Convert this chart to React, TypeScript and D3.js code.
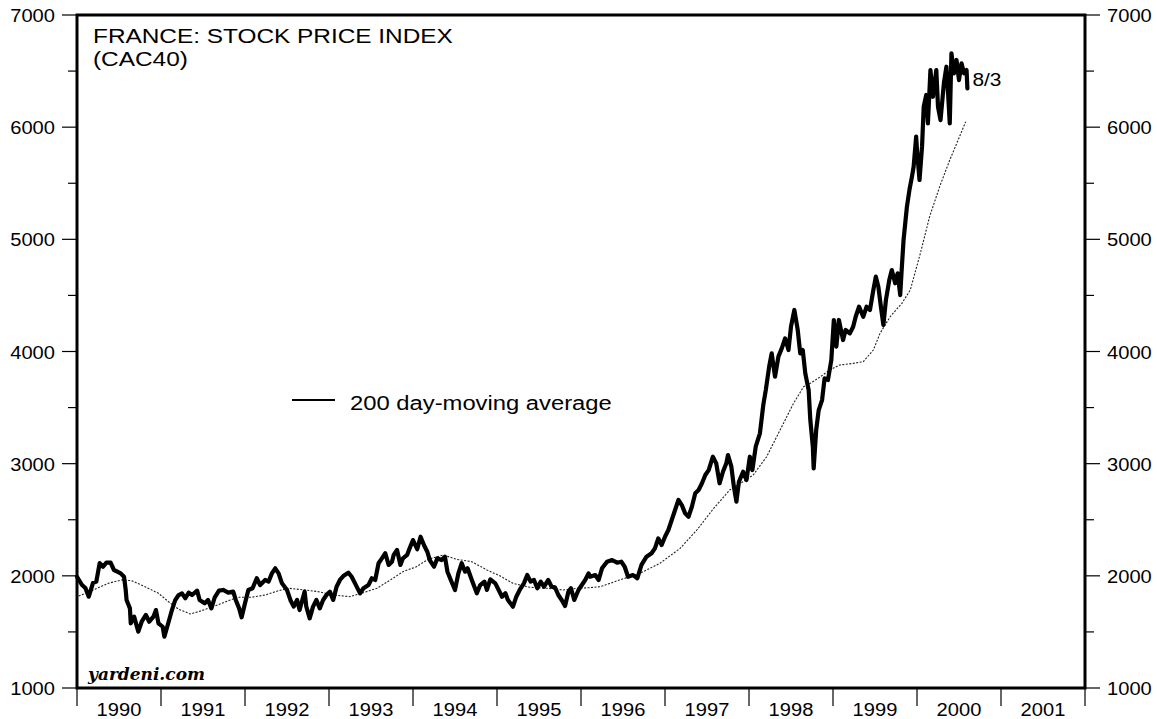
import React from 'react';
import * as d3 from 'd3';

// CAC40 closes: [decimal year, index]
const cacIndex: [number, number][] = [
  [1990.0, 1992], [1990.06, 1918], [1990.1, 1891], [1990.14, 1814], [1990.19, 1936], [1990.23, 1948],
  [1990.27, 2114], [1990.31, 2081], [1990.35, 2117], [1990.4, 2117], [1990.44, 2052], [1990.48, 2037],
  [1990.52, 2022], [1990.56, 1992], [1990.58, 1874], [1990.59, 1785], [1990.63, 1710], [1990.64, 1577],
  [1990.68, 1636], [1990.73, 1502], [1990.77, 1591], [1990.82, 1651], [1990.86, 1591], [1990.91, 1636],
  [1990.94, 1695], [1990.97, 1577], [1991.02, 1546], [1991.04, 1457], [1991.08, 1562], [1991.13, 1695],
  [1991.17, 1785], [1991.21, 1829], [1991.25, 1844], [1991.29, 1800], [1991.33, 1850], [1991.37, 1829],
  [1991.43, 1868], [1991.46, 1785], [1991.52, 1755], [1991.56, 1785], [1991.6, 1710], [1991.64, 1809],
  [1991.69, 1868], [1991.74, 1874], [1991.8, 1850], [1991.86, 1859], [1991.89, 1785], [1991.93, 1710],
  [1991.96, 1630], [1992.0, 1755], [1992.04, 1874], [1992.09, 1889], [1992.14, 1978], [1992.18, 1918],
  [1992.24, 1963], [1992.28, 1948], [1992.32, 2022], [1992.36, 2067], [1992.4, 2022], [1992.44, 1933],
  [1992.5, 1874], [1992.54, 1785], [1992.58, 1725], [1992.62, 1785], [1992.65, 1695], [1992.71, 1859],
  [1992.73, 1725], [1992.77, 1621], [1992.81, 1725], [1992.85, 1785], [1992.89, 1710], [1992.93, 1785],
  [1992.97, 1829], [1993.01, 1859], [1993.05, 1785], [1993.09, 1903], [1993.13, 1963], [1993.17, 1998],
  [1993.23, 2028], [1993.27, 1992], [1993.31, 1933], [1993.37, 1844], [1993.41, 1889], [1993.47, 1918],
  [1993.51, 1978], [1993.55, 1963], [1993.59, 2112], [1993.63, 2156], [1993.67, 2201], [1993.71, 2097],
  [1993.75, 2126], [1993.77, 2186], [1993.81, 2230], [1993.85, 2097], [1993.88, 2156], [1993.93, 2186],
  [1993.96, 2245], [1994.0, 2319], [1994.05, 2237], [1994.09, 2349], [1994.13, 2275], [1994.17, 2215],
  [1994.2, 2141], [1994.25, 2081], [1994.29, 2156], [1994.34, 2141], [1994.38, 2171], [1994.41, 2037],
  [1994.45, 1963], [1994.5, 1874], [1994.54, 2022], [1994.58, 2112], [1994.62, 2037], [1994.65, 2067],
  [1994.7, 1963], [1994.76, 1844], [1994.8, 1918], [1994.85, 1948], [1994.88, 1874], [1994.92, 1969],
  [1994.98, 1933], [1995.02, 1874], [1995.06, 1814], [1995.1, 1844], [1995.13, 1785], [1995.19, 1725],
  [1995.23, 1814], [1995.27, 1874], [1995.32, 1933], [1995.36, 2007], [1995.4, 1948], [1995.44, 1963],
  [1995.48, 1889], [1995.52, 1948], [1995.56, 1903], [1995.61, 1963], [1995.65, 1903], [1995.69, 1898],
  [1995.73, 1829], [1995.77, 1785], [1995.81, 1731], [1995.85, 1859], [1995.88, 1889], [1995.92, 1785],
  [1995.97, 1874], [1996.01, 1918], [1996.05, 1963], [1996.09, 2022], [1996.11, 1992], [1996.17, 2007],
  [1996.21, 1963], [1996.25, 2067], [1996.31, 2126], [1996.37, 2141], [1996.43, 2117], [1996.48, 2126],
  [1996.52, 2081], [1996.56, 1992], [1996.62, 2007], [1996.67, 1978], [1996.72, 2097], [1996.78, 2171],
  [1996.84, 2201], [1996.88, 2245], [1996.92, 2334], [1996.96, 2275], [1997.0, 2349], [1997.04, 2409],
  [1997.08, 2498], [1997.12, 2587], [1997.16, 2676], [1997.2, 2631], [1997.24, 2557], [1997.28, 2527],
  [1997.32, 2616], [1997.36, 2736], [1997.4, 2765], [1997.44, 2825], [1997.48, 2899], [1997.52, 2943],
  [1997.57, 3062], [1997.61, 3003], [1997.65, 2825], [1997.69, 2928], [1997.73, 3003], [1997.75, 3077],
  [1997.79, 2973], [1997.82, 2795], [1997.85, 2661], [1997.88, 2839], [1997.93, 2928], [1997.97, 2854],
  [1998.01, 3062], [1998.04, 2943], [1998.08, 3151], [1998.13, 3271], [1998.17, 3523], [1998.2, 3657],
  [1998.24, 3864], [1998.27, 3984], [1998.31, 3775], [1998.35, 3954], [1998.39, 4028], [1998.43, 4117],
  [1998.47, 4013], [1998.5, 4221], [1998.54, 4370], [1998.58, 4192], [1998.61, 3984], [1998.64, 4013],
  [1998.67, 3805], [1998.71, 3657], [1998.73, 3389], [1998.76, 3151], [1998.77, 2958], [1998.8, 3300],
  [1998.83, 3478], [1998.87, 3567], [1998.9, 3761], [1998.94, 3746], [1998.98, 3924], [1999.01, 4281],
  [1999.04, 4043], [1999.07, 4281], [1999.12, 4102], [1999.15, 4192], [1999.2, 4162], [1999.24, 4221],
  [1999.27, 4310], [1999.31, 4400], [1999.36, 4310], [1999.4, 4400], [1999.44, 4370], [1999.48, 4548],
  [1999.51, 4667], [1999.54, 4578], [1999.57, 4400], [1999.6, 4236], [1999.63, 4459], [1999.67, 4637],
  [1999.7, 4726], [1999.74, 4608], [1999.77, 4697], [1999.8, 4503], [1999.82, 4756], [1999.84, 4994],
  [1999.86, 5143], [1999.88, 5291], [1999.91, 5440], [1999.94, 5559], [1999.96, 5648], [1999.99, 5915],
  [2000.0, 5796], [2000.03, 5529], [2000.06, 5826], [2000.08, 6182], [2000.11, 6287], [2000.13, 6034],
  [2000.16, 6509], [2000.19, 6271], [2000.23, 6509], [2000.25, 6182], [2000.28, 6063], [2000.32, 6390],
  [2000.35, 6539], [2000.37, 6301], [2000.39, 6034], [2000.41, 6658], [2000.44, 6480], [2000.47, 6599],
  [2000.5, 6420], [2000.53, 6569], [2000.56, 6480], [2000.59, 6509], [2000.6, 6346],
];

// 200 day moving average
const movingAverage: [number, number][] = [
  [1990.02, 1820], [1990.21, 1880], [1990.37, 1933], [1990.53, 1963], [1990.65, 1957], [1990.81, 1903],
  [1990.97, 1844], [1991.09, 1769], [1991.21, 1702], [1991.35, 1660], [1991.48, 1689], [1991.64, 1731],
  [1991.8, 1778], [1991.92, 1809], [1992.08, 1809], [1992.24, 1829], [1992.4, 1868], [1992.52, 1889],
  [1992.71, 1874], [1992.87, 1859], [1993.05, 1829], [1993.25, 1814], [1993.41, 1850], [1993.57, 1889],
  [1993.73, 1963], [1993.88, 2037], [1994.04, 2081], [1994.18, 2147], [1994.36, 2186], [1994.52, 2147],
  [1994.7, 2126], [1994.88, 2052], [1995.04, 1998], [1995.19, 1933], [1995.39, 1898], [1995.59, 1889],
  [1995.79, 1874], [1995.95, 1889], [1996.09, 1894], [1996.23, 1903], [1996.46, 1963], [1996.7, 2022],
  [1996.94, 2112], [1997.18, 2245], [1997.38, 2409], [1997.58, 2602], [1997.77, 2765], [1997.93, 2839],
  [1998.05, 2899], [1998.21, 3062], [1998.37, 3300], [1998.53, 3538], [1998.65, 3686], [1998.73, 3716],
  [1998.85, 3775], [1998.96, 3835], [1999.08, 3880], [1999.24, 3894], [1999.36, 3909], [1999.48, 4013],
  [1999.56, 4162], [1999.68, 4310], [1999.82, 4429], [1999.92, 4548], [2000.04, 4875], [2000.15, 5202],
  [2000.27, 5470], [2000.39, 5707], [2000.49, 5886], [2000.58, 6049],
];

const years = [1990, 1991, 1992, 1993, 1994, 1995, 1996, 1997, 1998, 1999, 2000, 2001];
const majorTicks = [1000, 2000, 3000, 4000, 5000, 6000, 7000];
const minorTicks = [1500, 2500, 3500, 4500, 5500, 6500];

const W = 1157;
const H = 719;
const left = 77, right = 1085, top = 15, bottom = 688;
const font = "'Liberation Sans', Arial, Helvetica, sans-serif";

// the original is horizontally stretched, so text gets an x scale
function Txt({ x, y, sx = 1.1, size = 19, anchor = 'start', children }: any) {
  return (
    <text
      transform={`translate(${x},${y}) scale(${sx},1)`}
      fontFamily={font}
      fontSize={size}
      textAnchor={anchor}
      fill="#000"
    >
      {children}
    </text>
  );
}

export default function App() {
  const x = d3.scaleLinear().domain([1990, 2002]).range([left, right]);
  const y = d3.scaleLinear().domain([1000, 7000]).range([bottom, top]);

  const line = d3.line<[number, number]>()
    .x(d => x(d[0]))
    .y(d => y(d[1]));

  const last = cacIndex[cacIndex.length - 1];

  return (
    <svg width={W} height={H} style={{ position: 'absolute', left: 0, top: 0, background: '#fff' }}>
      <rect x={0} y={0} width={W} height={H} fill="#fff" />

      {/* moving average */}
      <path d={line(movingAverage) || ''} fill="none" stroke="#222" strokeWidth={1.1} strokeDasharray="2,1.5" />
      {/* index */}
      <path d={line(cacIndex) || ''} fill="none" stroke="#000" strokeWidth={4.2} strokeLinejoin="round" strokeLinecap="round" />

      {/* frame */}
      <rect x={left} y={top} width={right - left} height={bottom - top} fill="none" stroke="#000" strokeWidth={3} />

      {/* y axes */}
      {majorTicks.map(v => (
        <g key={'M' + v}>
          <line x1={left - 15} x2={left} y1={y(v)} y2={y(v)} stroke="#000" strokeWidth={1.2} />
          <line x1={right} x2={right + 15} y1={y(v)} y2={y(v)} stroke="#000" strokeWidth={1.2} />
          <Txt x={left - 22} y={y(v) + 7} anchor="end" sx={1.06}>{v}</Txt>
          <Txt x={right + 22} y={y(v) + 7} anchor="start" sx={1.06}>{v}</Txt>
        </g>
      ))}
      {minorTicks.map(v => (
        <g key={'m' + v}>
          <line x1={left - 9} x2={left} y1={y(v)} y2={y(v)} stroke="#000" strokeWidth={1.2} />
          <line x1={right} x2={right + 9} y1={y(v)} y2={y(v)} stroke="#000" strokeWidth={1.2} />
        </g>
      ))}

      {/* x axis */}
      {[...years, 2002].map(yr => (
        <line key={'t' + yr} x1={x(yr)} x2={x(yr)} y1={bottom} y2={bottom + 18} stroke="#000" strokeWidth={1.2} />
      ))}
      {years.map(yr => (
        <Txt key={'l' + yr} x={x(yr + 0.5)} y={716} anchor="middle" sx={1.06}>{yr}</Txt>
      ))}

      {/* titles */}
      <Txt x={93} y={43} size={20.5} sx={1.19}>FRANCE: STOCK PRICE INDEX</Txt>
      <Txt x={93} y={66} size={20.5} sx={1.19}>(CAC40)</Txt>

      {/* legend */}
      <line x1={292} x2={335} y1={400} y2={400} stroke="#000" strokeWidth={2.2} />
      <Txt x={350} y={410} size={20} sx={1.19}>200 day-moving average</Txt>

      {/* last date */}
      <Txt x={x(last[0]) + 5} y={y(last[1]) - 2} size={19} sx={1.1}>8/3</Txt>

      <text x={88} y={680} fontFamily="'DejaVu Serif', 'Times New Roman', serif" fontWeight="bold" fontStyle="italic" fontSize={17} fill="#000">
        yardeni.com
      </text>
    </svg>
  );
}
